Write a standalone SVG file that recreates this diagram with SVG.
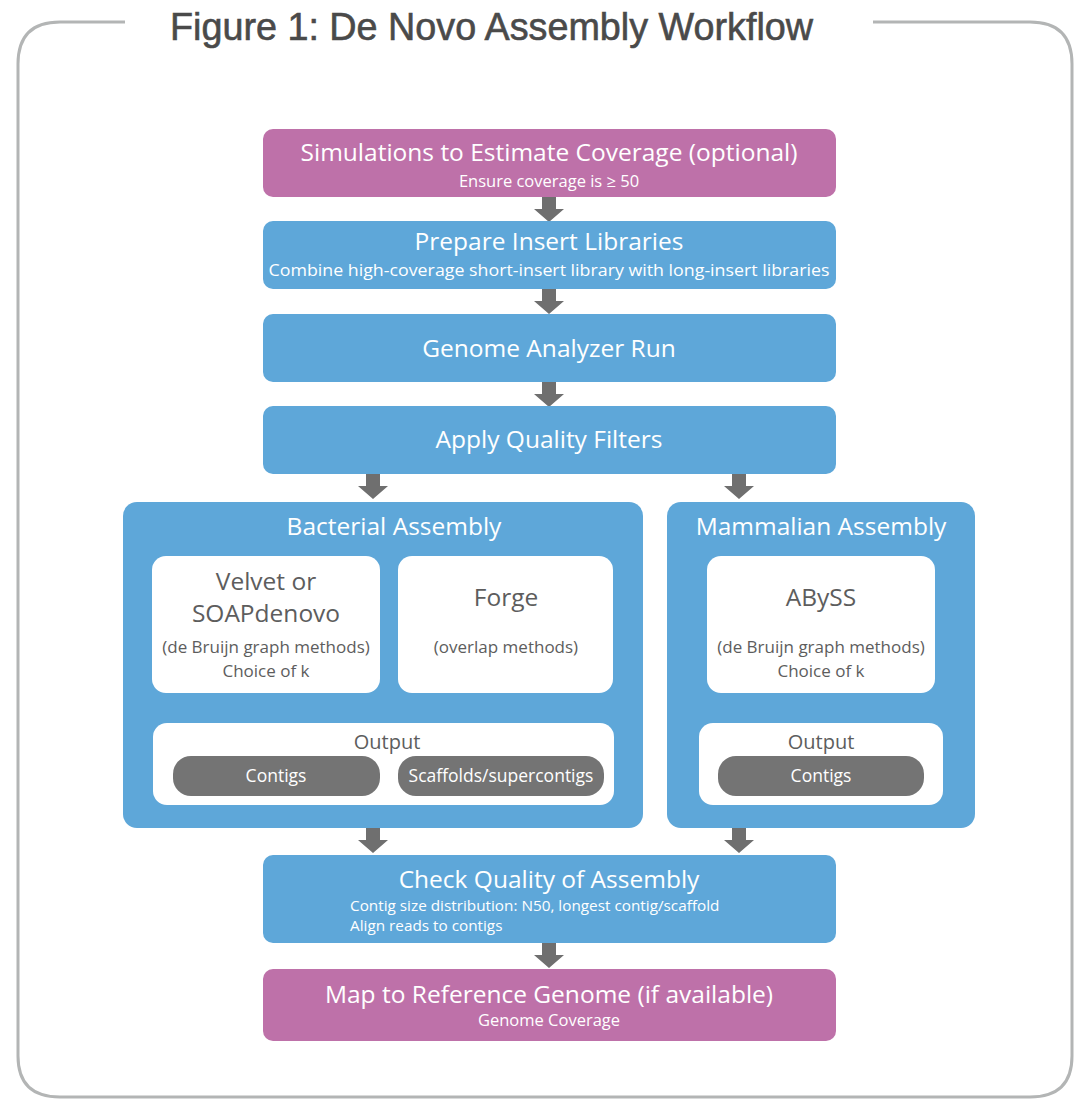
<svg xmlns="http://www.w3.org/2000/svg" width="1075" height="1101" viewBox="0 0 1075 1101">
<style>
.frame{fill:none;stroke:#b3b5b5;stroke-width:3}
.title{font-family:"Liberation Sans",Arial,sans-serif;font-size:38px;fill:#4a4a4a;stroke:#4a4a4a;stroke-width:0.6}
.pink{fill:#be71a9}
.blue{fill:#5ea7d9}
.white{fill:#ffffff}
.pill{fill:#747474}
.arrow{fill:#6f6f6f}
text{font-family:"Open Sans",Lato,sans-serif}
.h{font-size:24.5px;fill:#ffffff;text-anchor:middle}
.s{font-size:16.5px;fill:#ffffff;text-anchor:middle}
.sl{font-size:15.3px;fill:#ffffff}
.g{font-size:24.5px;fill:#5d5d5d;text-anchor:middle}
.gs{font-size:17px;fill:#5d5d5d;text-anchor:middle}
.go{font-size:20px;fill:#5d5d5d;text-anchor:middle}
.p{font-size:17.5px;fill:#ffffff;text-anchor:middle}
</style>
<defs>
<path id="arr" d="M-7,0 H7 V12 H15 L0,25 L-15,12 H-7 Z"/>
</defs>
<g id="frame">
<path class="frame" d="M125,22 H60 Q18,22 18,64 V1056 Q18,1097 60,1097 H1030 Q1072,1097 1072,1056 V64 Q1072,22 1030,22 H873"/>
<text class="title" x="170" y="40" textLength="643" lengthAdjust="spacingAndGlyphs">Figure 1: De Novo Assembly Workflow</text>
</g>
<g id="connectors">
<use href="#arr" class="arrow" x="549" y="197"/>
<use href="#arr" class="arrow" x="549" y="289"/>
<use href="#arr" class="arrow" x="549" y="382"/>
<use href="#arr" class="arrow" x="373" y="474"/>
<use href="#arr" class="arrow" x="739" y="474"/>
<use href="#arr" class="arrow" x="373" y="828"/>
<use href="#arr" class="arrow" x="739" y="828"/>
<use href="#arr" class="arrow" x="549" y="943"/>
</g>
<g id="simulations">
<rect class="pink" x="263" y="129" width="573" height="68" rx="10"/>
<text class="h" x="549" y="161">Simulations to Estimate Coverage (optional)</text>
<text class="s" x="549" y="187">Ensure coverage is ≥ 50</text>
</g>
<g id="prepare">
<rect class="blue" x="263" y="221" width="573" height="68" rx="10"/>
<text class="h" x="549" y="250">Prepare Insert Libraries</text>
<text class="s" x="549" y="276" textLength="561" lengthAdjust="spacingAndGlyphs">Combine high-coverage short-insert library with long-insert libraries</text>
</g>
<g id="genome-run">
<rect class="blue" x="263" y="314" width="573" height="68" rx="10"/>
<text class="h" x="549" y="357">Genome Analyzer Run</text>
</g>
<g id="quality-filters">
<rect class="blue" x="263" y="406" width="573" height="68" rx="10"/>
<text class="h" x="549" y="448">Apply Quality Filters</text>
</g>
<g id="bacterial">
<rect class="blue" x="123" y="502" width="520" height="326" rx="14"/>
<text class="h" x="394" y="535">Bacterial Assembly</text>
<g id="velvet">
<rect class="white" x="152" y="556" width="228" height="137" rx="14"/>
<text class="g" x="266" y="590">Velvet or</text>
<text class="g" x="266" y="622">SOAPdenovo</text>
<text class="gs" x="266" y="653">(de Bruijn graph methods)</text>
<text class="gs" x="266" y="677">Choice of k</text>
</g>
<g id="forge">
<rect class="white" x="398" y="556" width="215" height="137" rx="14"/>
<text class="g" x="506" y="606">Forge</text>
<text class="gs" x="506" y="653">(overlap methods)</text>
</g>
<g id="bact-output">
<rect class="white" x="153" y="723" width="461" height="82" rx="14"/>
<text class="go" x="387" y="749">Output</text>
<rect class="pill" x="173" y="756" width="207" height="40" rx="18"/>
<text class="p" x="276" y="782">Contigs</text>
<rect class="pill" x="398" y="756" width="206" height="40" rx="18"/>
<text class="p" x="501" y="782">Scaffolds/supercontigs</text>
</g>
</g>
<g id="mammalian">
<rect class="blue" x="667" y="502" width="308" height="326" rx="14"/>
<text class="h" x="821" y="535">Mammalian Assembly</text>
<g id="abyss">
<rect class="white" x="707" y="556" width="228" height="137" rx="14"/>
<text class="g" x="821" y="606">ABySS</text>
<text class="gs" x="821" y="653">(de Bruijn graph methods)</text>
<text class="gs" x="821" y="677">Choice of k</text>
</g>
<g id="mamm-output">
<rect class="white" x="699" y="723" width="244" height="82" rx="14"/>
<text class="go" x="821" y="749">Output</text>
<rect class="pill" x="718" y="756" width="206" height="40" rx="18"/>
<text class="p" x="821" y="782">Contigs</text>
</g>
</g>
<g id="check-quality">
<rect class="blue" x="263" y="855" width="573" height="88" rx="10"/>
<text class="h" x="549" y="888">Check Quality of Assembly</text>
<text class="sl" x="350" y="911">Contig size distribution: N50, longest contig/scaffold</text>
<text class="sl" x="350" y="931">Align reads to contigs</text>
</g>
<g id="map-reference">
<rect class="pink" x="263" y="969" width="573" height="72" rx="10"/>
<text class="h" x="549" y="1003">Map to Reference Genome (if available)</text>
<text class="s" x="549" y="1026">Genome Coverage</text>
</g>
</svg>
